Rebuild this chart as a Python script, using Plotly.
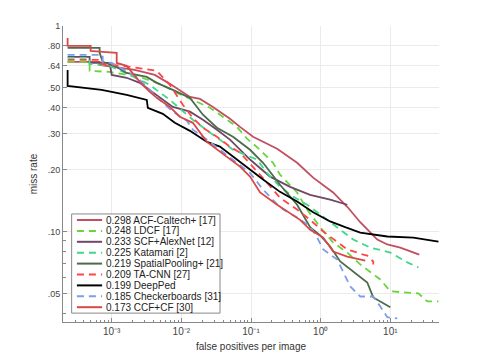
import plotly.graph_objects as go

# ---- data (false positives per image vs miss rate) ----
names = ["0.298 ACF-Caltech+ [17]", "0.248 LDCF [17]", "0.233 SCF+AlexNet [12]",
         "0.225 Katamari [2]", "0.219 SpatialPooling+ [21]", "0.209 TA-CNN [27]",
         "0.199 DeepPed", "0.185 Checkerboards [31]", "0.173 CCF+CF [30]"]

acf_x = [2.33e-4, 6.71e-4, 6.71e-4, 2.14e-3, 4.16e-3, 6.84e-3, 1.33e-2, 1.85e-2, 2.84e-2, 4.99e-2,
         6.95e-2, 0.107, 0.237, 0.459, 0.780, 1.51, 2.41, 3.70, 6.50, 9.05, 13.9, 26.1]
acf_y = [0.669, 0.669, 0.647, 0.611, 0.578, 0.523, 0.452, 0.442, 0.404, 0.354,
         0.323, 0.289, 0.253, 0.216, 0.183, 0.155, 0.132, 0.111, 0.0914, 0.0865, 0.0836, 0.0773]

ldcf_x = [2.33e-4, 4.82e-4, 4.82e-4, 9.35e-4, 1.64e-3, 2.53e-3, 4.91e-3, 8.61e-3, 1.46e-2, 2.57e-2,
          4.52e-2, 6.29e-2, 8.76e-2, 0.135, 0.207, 0.261, 0.459, 0.639, 0.984, 1.51, 2.41, 3.70,
          7.18, 10.0, 25.3, 34.1, 49.1]
ldcf_y = [0.669, 0.669, 0.605, 0.598, 0.578, 0.565, 0.523, 0.473, 0.437, 0.40,
          0.35, 0.323, 0.283, 0.25, 0.216, 0.189, 0.155, 0.128, 0.105, 0.0885, 0.079, 0.0692,
          0.0585, 0.0512, 0.050, 0.0457, 0.0457]

scf_x = [2.33e-4, 4.82e-4, 4.82e-4, 9.35e-4, 1.0e-3, 1.64e-3, 2.53e-3, 3.52e-3, 4.91e-3, 7.55e-3,
         1.33e-2, 2.04e-2, 3.24e-2, 4.99e-2, 9.68e-2, 0.188, 0.364, 0.706, 1.37, 2.41]
scf_y = [0.707, 0.707, 0.661, 0.661, 0.578, 0.56, 0.529, 0.489, 0.452, 0.404,
         0.383, 0.35, 0.313, 0.28, 0.224, 0.185, 0.165, 0.151, 0.143, 0.135]

kat_x = [2.33e-4, 4.82e-4, 4.82e-4, 9.35e-4, 1.82e-3, 3.52e-3, 6.84e-3, 1.46e-2, 2.57e-2, 3.58e-2,
         5.51e-2, 0.122, 0.170, 0.261, 0.402, 0.639, 1.09, 1.91, 2.94, 5.15, 10.0, 17.6, 25.3]
kat_y = [0.70, 0.70, 0.654, 0.64, 0.578, 0.517, 0.437, 0.35, 0.303, 0.28,
         0.25, 0.224, 0.193, 0.165, 0.148, 0.135, 0.118, 0.102, 0.0914, 0.0836, 0.079, 0.0708, 0.0669]

sp_x = [2.33e-4, 6.71e-4, 6.71e-4, 7.43e-4, 1.18e-3, 1.64e-3, 3.19e-3, 4.44e-3, 7.55e-3, 1.33e-2,
        2.04e-2, 3.24e-2, 5.51e-2, 9.68e-2, 0.149, 0.261, 0.459, 0.706, 0.984, 1.37, 1.91, 2.94,
        4.67, 5.69, 7.18, 10.0]
sp_y = [0.782, 0.782, 0.740, 0.669, 0.632, 0.591, 0.565, 0.529, 0.489, 0.447,
        0.370, 0.32, 0.289, 0.25, 0.216, 0.169, 0.135, 0.105, 0.0957, 0.0846, 0.0715, 0.064,
        0.0565, 0.0478, 0.0457, 0.0428]

tacnn_x = [2.33e-4, 6.71e-4, 6.71e-4, 1.44e-3, 4.44e-3, 6.84e-3, 1.05e-2, 1.46e-2, 2.04e-2, 3.24e-2,
           4.99e-2, 6.95e-2, 0.135, 0.261, 0.459, 0.706, 1.09, 1.73, 2.41, 4.09, 4.67, 5.69, 5.69]
tacnn_y = [0.684, 0.684, 0.654, 0.64, 0.605, 0.517, 0.414, 0.357, 0.32, 0.289,
           0.259, 0.242, 0.189, 0.146, 0.128, 0.114, 0.10, 0.0885, 0.0818, 0.0773, 0.0764, 0.0715, 0.0692]

deep_x = [2.33e-4, 2.33e-4, 7.18e-4, 1.64e-3, 3.19e-3, 3.30e-3, 5.42e-3, 8.06e-3, 1.33e-2, 2.33e-2,
          3.58e-2, 5.51e-2, 9.68e-2, 0.149, 0.261, 0.459, 0.780, 1.37, 2.25, 3.70, 9.05, 21.4, 49.1]
deep_y = [0.611, 0.511, 0.489, 0.462, 0.437, 0.40, 0.374, 0.338, 0.309, 0.273,
          0.259, 0.231, 0.20, 0.179, 0.156, 0.140, 0.124, 0.112, 0.105, 0.0989, 0.0946, 0.0935, 0.0894]

cb_x = [2.33e-4, 7.43e-4, 7.43e-4, 1.0e-3, 2.29e-3, 3.52e-3, 4.91e-3, 7.55e-3, 1.20e-2, 1.46e-2,
        2.33e-2, 3.58e-2, 6.29e-2, 9.68e-2, 0.149, 0.261, 0.459, 0.706, 0.891, 1.09, 1.73, 2.11,
        2.66, 3.70, 5.69, 7.18, 9.05, 12.6]
cb_y = [0.723, 0.723, 0.669, 0.661, 0.565, 0.489, 0.437, 0.383, 0.346, 0.313,
        0.28, 0.25, 0.216, 0.193, 0.16, 0.131, 0.117, 0.106, 0.0935, 0.0818, 0.0731, 0.064,
        0.0541, 0.0483, 0.0483, 0.0432, 0.0383, 0.0378]

ccf_x = [2.33e-4, 2.33e-4, 4.99e-4, 4.99e-4, 7.43e-4, 1.18e-3, 1.18e-3, 1.64e-3, 2.53e-3, 3.52e-3,
         4.44e-3, 6.84e-3, 9.51e-3, 1.46e-2, 2.33e-2, 4.52e-2, 6.95e-2, 9.68e-2, 0.135, 0.237,
         0.507, 0.706, 1.09, 1.51, 2.41, 4.37]
ccf_y = [0.874, 0.80, 0.80, 0.756, 0.748, 0.740, 0.661, 0.64, 0.535, 0.478,
         0.447, 0.404, 0.362, 0.338, 0.273, 0.231, 0.207, 0.185, 0.155, 0.135,
         0.114, 0.102, 0.0935, 0.080, 0.0756, 0.0723]

xs = [acf_x, ldcf_x, scf_x, kat_x, sp_x, tacnn_x, deep_x, cb_x, ccf_x]
ys = [acf_y, ldcf_y, scf_y, kat_y, sp_y, tacnn_y, deep_y, cb_y, ccf_y]

colors = ["#c24f60", "#6ad43c", "#6e4866", "#3fd888", "#4b6b4b", "#ff4545", "#000000", "#7e9de8", "#d94848"]
dashes = ["solid", "7px,5px", "solid", "7px,5px", "solid", "7px,5px", "solid", "7px,5px", "solid"]

y_ticks = [1, 0.80, 0.64, 0.50, 0.40, 0.30, 0.20, 0.10, 0.05]
y_ticktext = ["1", ".80", ".64", ".50", ".40", ".30", ".20", ".10", ".05"]
y_minor = [0.09, 0.08, 0.07, 0.06, 0.04]
x_ticks = [1e-3, 1e-2, 1e-1, 1, 10]
x_ticktext = ["10⁻³", "10⁻²", "10⁻¹", "10⁰", "10¹"]
x_minor = [m * 10.0 ** e for e in range(-4, 2) for m in range(2, 10) if 2e-4 < m * 10.0 ** e < 50]

fig = go.Figure()
for i in range(len(names)):
    fig.add_trace(go.Scatter(x=xs[i], y=ys[i], mode="lines", name=names[i],
                             line=dict(color=colors[i], width=1.8, dash=dashes[i])))

font = "Liberation Sans, Arial, sans-serif"

# hand-made legend (box, samples, labels) in paper coords
shapes = [dict(type="rect", xref="paper", yref="paper", x0=0.023, x1=0.4176, y0=0.030, y1=0.365,
               fillcolor="white", line=dict(color="#888", width=1), layer="above")]
annotations = []
for i in range(len(names)):
    yy = (322 - (220 + i * 10.9)) / 296
    shapes.append(dict(type="line", xref="paper", yref="paper", x0=0.037, x1=0.104, y0=yy, y1=yy,
                       line=dict(color=colors[i], width=2, dash=dashes[i]), layer="above"))
    annotations.append(dict(xref="paper", yref="paper", x=0.110, y=yy, text=names[i], showarrow=False,
                            xanchor="left", yanchor="middle", font=dict(size=10, color="#222", family=font)))

# page body keeps its default 8px margin, so the figure is made 8px smaller and margins shifted
fig.update_layout(
    width=477, height=355, showlegend=False,
    margin=dict(l=55, r=46, t=18, b=41),
    paper_bgcolor="white", plot_bgcolor="white",
    font=dict(family=font, size=9, color="#444"),
    shapes=shapes, annotations=annotations,
)
fig.update_xaxes(type="log", range=[-3.699, 1.699], tickmode="array", tickvals=x_ticks, ticktext=x_ticktext,
                 ticks="inside", ticklen=4, tickcolor="#888", showline=True, linecolor="#888", linewidth=1,
                 showgrid=True, gridcolor="#ebebeb", zeroline=False, tickfont=dict(size=10),
                 minor=dict(tickmode="array", tickvals=x_minor, ticks="inside", ticklen=2, tickcolor="#888", showgrid=False),
                 title=dict(text="false positives per image", font=dict(size=10, color="#333"), standoff=6))
fig.update_yaxes(type="log", range=[-1.44, 0.0], tickmode="array", tickvals=y_ticks, ticktext=y_ticktext,
                 ticks="inside", ticklen=4, tickcolor="#888", showline=True, linecolor="#888", linewidth=1,
                 showgrid=True, gridcolor="#ebebeb", zeroline=False,
                 minor=dict(tickmode="array", tickvals=y_minor, ticks="inside", ticklen=3, tickcolor="#888", showgrid=False),
                 title=dict(text="miss rate", font=dict(size=10, color="#333"), standoff=8))

fig.write_html("out.html")
